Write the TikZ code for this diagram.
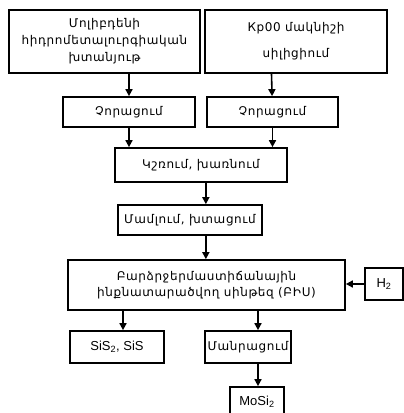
\documentclass[tikz,border=0pt]{standalone}
\usepackage{fontspec}
\setmainfont{Liberation Sans}
\newfontfamily\arm[LetterSpace=5]{DejaVu Sans}
\usetikzlibrary{arrows.meta}
\tikzset{
  box/.style={draw, line width=1.7pt, inner sep=0pt, align=center, font=\arm\fontsize{12}{17}\selectfont},
  lat/.style={font=\fontsize{13}{15}\selectfont},
  arr/.style={line width=1.6pt, -{Triangle[length=7pt,width=7pt]}},
}
\newcommand{\bx}[6]{% name, x1, y1, x2, y2, text
  \node[box, minimum width={#4-#2}, minimum height={#5-#3}] (#1) at ({(#2+#4)/2},{(#3+#5)/2}) {#6};}
\begin{document}
\begin{tikzpicture}[x=1pt,y=-1pt]
\useasboundingbox (0,0) rectangle (404,413);
\bx{a}{9}{10}{200}{73}{Մոլիբդենի\\հիդրոմետալուրգիական\\խտանյութ}
\node[box, minimum width=182, minimum height=63, font=\arm\fontsize{12}{26}\selectfont] (b) at (296,41.5) {Кр00 մակնիշի\\սիլիցիում};
\bx{c}{63}{97}{195}{127}{Չորացում}
\bx{d}{207}{97}{338}{127}{Չորացում}
\bx{e}{115}{148}{287}{182}{Կշռում, խառնում}
\bx{f}{118}{205}{262}{235}{Մամլում, խտացում}
\node[box, minimum width=277, minimum height=50, font=\arm\fontsize{12}{16}\selectfont] (g) at (206.5,285) {Բարձրջերմաստիճանային\\ինքնատարածվող սինթեզ (ԲԻՍ)};
\node[box, lat, minimum width=38, minimum height=32] (h) at (384,284) {H\textsubscript{2}};
\node[box, lat, minimum width=94, minimum height=32] (i) at (117,347) {SiS\textsubscript{2}, SiS};
\bx{j}{205}{331}{291}{363}{Մանրացում}
\node[box, lat, minimum width=54, minimum height=30] (k) at (257,402) {MoSi\textsubscript{2}};
\coordinate (ci) at (123,0);
\coordinate (cj) at (258,0);
\draw[arr] (a.south -| c) -- (c);
\draw[arr] ([xshift=-1pt]b.south -| d) -- (d);
\draw[arr] (c.south) -- (c.south |- e.north);
\draw[arr] (d.south) -- (d.south |- e.north);
\draw[arr] (e.south -| f.north east) ++(-57,0) coordinate (t1) -- (t1 |- f.north);
\draw[arr] (t1 |- f.south) coordinate (t2) -- (t2 |- g.north);
\draw[arr] (h.west) -- (h.west -| g.east);
\draw[arr] (g.south -| ci) -- (ci |- i.north);
\draw[arr] (g.south -| cj) -- (cj |- j.north);
\draw[arr] (j.south -| cj) -- (cj |- k.north);
\end{tikzpicture}
\end{document}
